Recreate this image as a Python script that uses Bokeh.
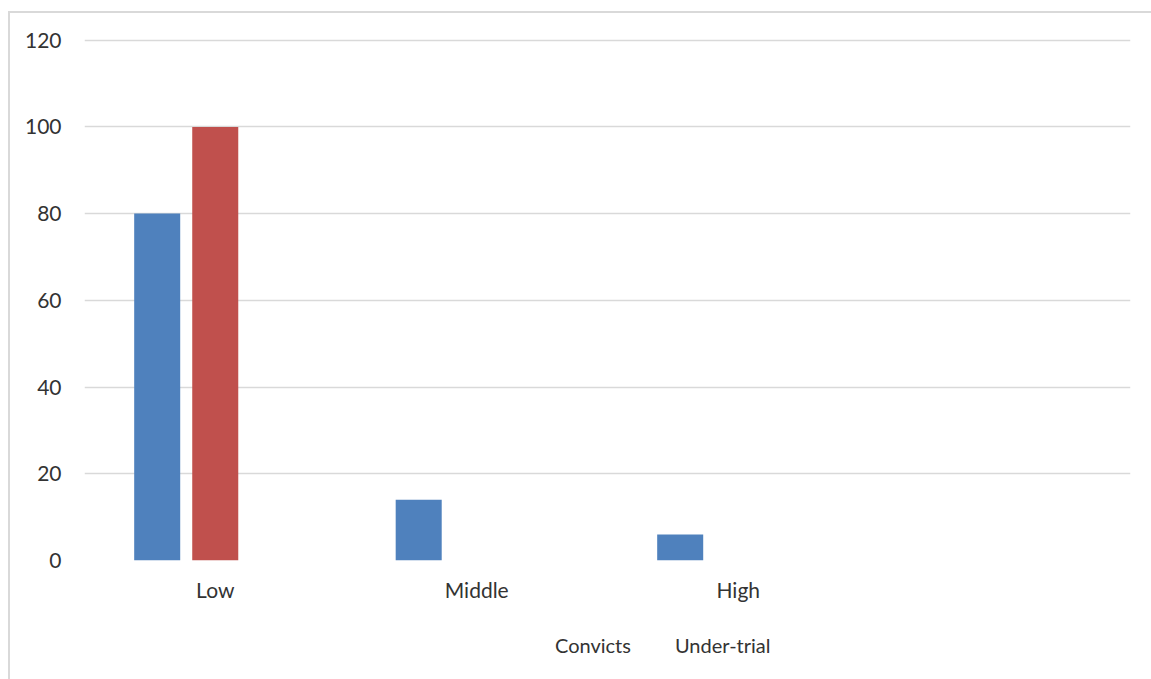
from bokeh.plotting import figure
from bokeh.layouts import column
from bokeh.models import ColumnDataSource, FactorRange, Range1d, FixedTicker, Legend, LegendItem
from bokeh.transform import dodge
from bokeh.embed import file_html
from bokeh.resources import INLINE

# Share of prisoners by economic status (%)
categories = ["Low", "Middle", "High"]
convicts = [80, 14, 6]
under_trial = [100, 0, 0]
y_ticks = [0, 20, 40, 60, 80, 100, 120]
series_names = ["Convicts", "Under-trial"]

BLUE = "#4F81BD"
RED = "#C0504D"
GRID = "#d9d9d9"
TEXT = "#333333"
FONT = "Lato"

# a trailing blank factor leaves an empty slot at the right end of the axis
factors = categories + [" "]

source = ColumnDataSource(dict(cat=categories, convicts=convicts, under_trial=under_trial))

p = figure(
    x_range=FactorRange(*factors, range_padding=0, factor_padding=0),
    y_range=Range1d(0, 122),
    frame_width=1046, frame_height=529,
    min_border_left=74, min_border_right=21, min_border_top=18, min_border_bottom=50,
    output_backend="svg", toolbar_location=None,
    background_fill_color="white", border_fill_color="white",
    outline_line_color=None,
)

bar_w = 0.176
p.vbar(x=dodge("cat", -0.222, range=p.x_range), top="convicts", width=bar_w,
       source=source, fill_color=BLUE, line_color=None)
p.vbar(x=dodge("cat", 0.0, range=p.x_range), top="under_trial", width=bar_w,
       source=source, fill_color=RED, line_color=None)

# axes
p.yaxis.ticker = FixedTicker(ticks=y_ticks)
for ax in (p.xaxis[0], p.yaxis[0]):
    ax.axis_line_color = None
    ax.major_tick_line_color = None
    ax.minor_tick_line_color = None
    ax.major_label_text_font = FONT
    ax.major_label_text_font_size = "21px"
    ax.major_label_text_color = TEXT
p.yaxis.major_label_standoff = 17
p.xaxis.major_label_standoff = 10

p.xgrid.grid_line_color = None
p.ygrid.ticker = FixedTicker(ticks=y_ticks)
p.ygrid.grid_line_color = GRID
p.ygrid.grid_line_width = 1.5

# legend strip underneath the chart, with its own swatch renderers
key = figure(
    width=1141, height=69,
    x_axis_type=None, y_axis_type=None,
    min_border_left=0, min_border_right=0, min_border_top=0, min_border_bottom=0,
    output_backend="svg", toolbar_location=None,
    background_fill_color="white", border_fill_color="white",
    outline_line_color=None,
)
key.xgrid.visible = False
key.ygrid.visible = False
k1 = key.vbar(x=[], top=[], width=1, fill_color=BLUE, line_color=None)
k2 = key.vbar(x=[], top=[], width=1, fill_color=RED, line_color=None)

legend = Legend(
    items=[LegendItem(label=series_names[0], renderers=[k1]),
           LegendItem(label=series_names[1], renderers=[k2])],
    orientation="horizontal", location=(453, 22),
    glyph_width=13, glyph_height=14, label_standoff=5, spacing=26,
    label_text_font=FONT, label_text_font_size="20px", label_text_color=TEXT,
    border_line_color=None, background_fill_alpha=0, padding=0, margin=0,
)
key.add_layout(legend)

# chart area frame: thin grey rule along the top and left edges
page = column(p, key,
              styles={"border-top": "2px solid #d9d9d9", "border-left": "2px solid #d9d9d9",
                      "margin-left": "8px", "margin-top": "11px", "background": "white"})

open("out.html", "w").write(file_html(page, INLINE))
